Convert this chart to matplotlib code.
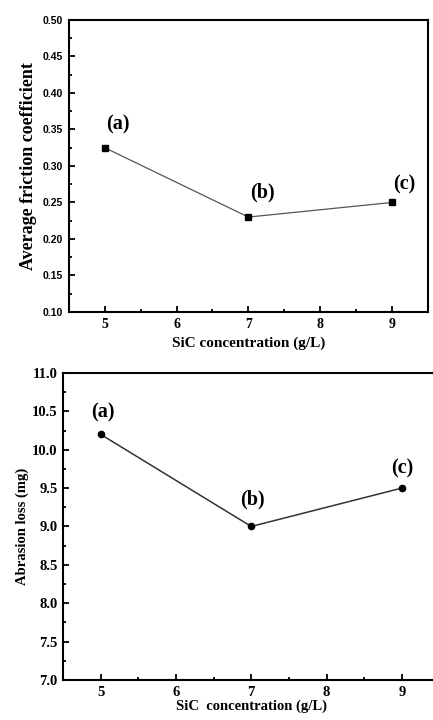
import numpy as np
from matplotlib import pyplot as plt
from matplotlib.ticker import MultipleLocator, FormatStrFormatter

# data
sic_conc = [5, 7, 9]
friction = [0.325, 0.23, 0.25]
abrasion = [10.2, 9.0, 9.5]
point_labels = ['(a)', '(b)', '(c)']

# label positions (data coords)
fric_lab_x = [5.18, 7.2, 9.17]
fric_lab_y = [0.357, 0.263, 0.275]
abr_lab_x = [5.03, 7.01, 9.01]
abr_lab_y = [10.49, 9.35, 9.76]

serif = 'Liberation Serif'
sans = 'Liberation Sans'

fig = plt.figure(figsize=(4.33, 7.2), dpi=100)

def styleAxes(ax, major_y, minor_y):
    for sp in ax.spines.values():
        sp.set_linewidth(1.5)
    ax.xaxis.set_major_locator(MultipleLocator(1))
    ax.xaxis.set_minor_locator(MultipleLocator(0.5))
    ax.yaxis.set_major_locator(MultipleLocator(major_y))
    ax.yaxis.set_minor_locator(MultipleLocator(minor_y))
    ax.tick_params(which='both', direction='in', top=False, right=False, width=1.3)
    ax.tick_params(which='major', length=4, pad=4)
    ax.tick_params(which='minor', length=2.5)

# top panel: friction coefficient
ax1 = fig.add_axes([0.159, 0.5667, 0.829, 0.4056])
ax1.plot(sic_conc, friction, color='#555555', lw=0.9, marker='s', ms=4,
         mfc='black', mec='black')
ax1.set_xlim(4.5, 9.5)
ax1.set_ylim(0.10, 0.50)
styleAxes(ax1, 0.05, 0.025)
ax1.yaxis.set_major_formatter(FormatStrFormatter('%.2f'))
for lab in ax1.get_yticklabels():
    lab.set_fontfamily(sans)
    lab.set_fontweight('bold')
    lab.set_fontsize(7.5)
for lab in ax1.get_xticklabels():
    lab.set_fontfamily(serif)
    lab.set_fontweight('bold')
    lab.set_fontsize(10)
ax1.set_ylabel('Average friction coefficient', family=serif, weight='bold',
               fontsize=13, labelpad=4)
ax1.set_xlabel('SiC concentration (g/L)', family=serif, weight='bold',
               fontsize=11, labelpad=4)
for x, y, t in zip(fric_lab_x, fric_lab_y, point_labels):
    ax1.text(x, y, t, family=serif, weight='bold', fontsize=14.5,
             ha='center', va='center')

# bottom panel: abrasion loss
ax2 = fig.add_axes([0.1455, 0.0556, 0.8695, 0.4264])
ax2.plot(sic_conc, abrasion, color='#333333', lw=1.1, marker='o', ms=4.5,
         mfc='black', mec='black')
ax2.set_xlim(4.5, 9.5)
ax2.set_ylim(7.0, 11.0)
styleAxes(ax2, 0.5, 0.25)
ax2.yaxis.set_major_formatter(FormatStrFormatter('%.1f'))
for lab in ax2.get_yticklabels() + ax2.get_xticklabels():
    lab.set_fontfamily(serif)
    lab.set_fontweight('bold')
    lab.set_fontsize(10.5)
ax2.set_ylabel('Abrasion loss (mg)', family=serif, weight='bold',
               fontsize=10.5, labelpad=2)
ax2.set_xlabel('SiC  concentration (g/L)', family=serif, weight='bold',
               fontsize=10.5, labelpad=1)
for x, y, t in zip(abr_lab_x, abr_lab_y, point_labels):
    ax2.text(x, y, t, family=serif, weight='bold', fontsize=14.5,
             ha='center', va='center')

plt.savefig('out.png', dpi=100)
